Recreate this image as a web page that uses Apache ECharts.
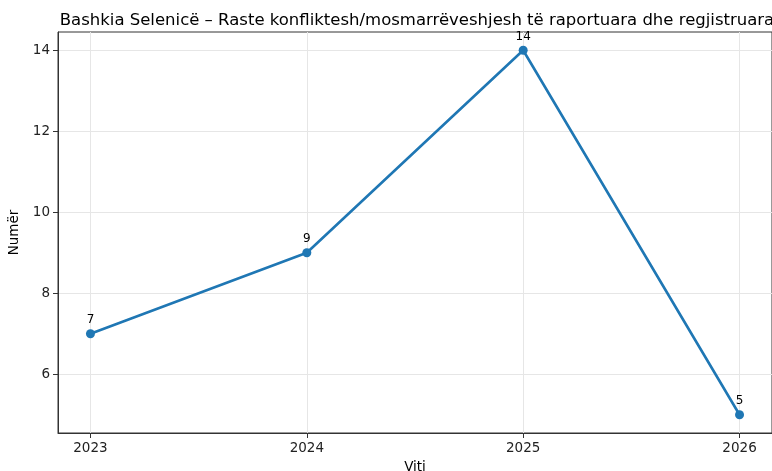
<!DOCTYPE html>
<html>
<head>
<meta charset="utf-8">
<script src="https://cdn.jsdelivr.net/npm/echarts@6/dist/echarts.min.js"></script>
<style>
  html, body { margin: 0; padding: 0; background: #fff; }
  #chart { width: 772px; height: 471px; }
</style>
</head>
<body>
<div id="chart"></div>
<script>
// Reported and registered conflict/dispute cases per year
const years = [2023, 2024, 2025, 2026];
const cases = [7, 9, 14, 5];
const yTicks = [6, 8, 10, 12, 14];

const FONT = 'DejaVu Sans';
const chart = echarts.init(document.getElementById('chart'), null, { renderer: 'canvas' });

chart.setOption({
  backgroundColor: '#ffffff',
  animation: false,
  title: {
    text: 'Bashkia Selenicë – Raste konfliktesh/mosmarrëveshjesh të raportuara dhe regjistruara',
    left: 412,
    textAlign: 'center',
    top: 7,
    textStyle: { fontFamily: FONT, fontSize: 16.5, fontWeight: 'normal', color: '#000' }
  },
  grid: {
    left: 58, right: 0, top: 32, bottom: 38,
    outerBoundsMode: 'none',
    containLabel: false,
    show: true, borderColor: '#333', borderWidth: 1, backgroundColor: 'transparent'
  },
  xAxis: {
    type: 'value',
    min: 2022.85, max: 2026.15,
    name: 'Viti',
    nameLocation: 'middle',
    nameGap: 27,
    nameTextStyle: { fontFamily: FONT, fontSize: 13.5, color: '#000' },
    axisLine: { show: true, lineStyle: { color: '#333', width: 1 } },
    axisTick: { show: true, customValues: years, length: 5, lineStyle: { color: '#333', width: 1 } },
    axisLabel: {
      customValues: years, margin: 8,
      fontFamily: FONT, fontSize: 13.5, color: '#222',
      formatter: v => String(v)
    },
    splitLine: { show: true, lineStyle: { color: '#e6e6e6', width: 1 } }
  },
  yAxis: {
    type: 'value',
    min: 4.55, max: 14.45,
    name: 'Numër',
    nameLocation: 'middle',
    nameGap: 31,
    nameRotate: 90,
    nameTextStyle: { fontFamily: FONT, fontSize: 13.5, color: '#000' },
    axisLine: { show: true, lineStyle: { color: '#333', width: 1 } },
    axisTick: { show: true, customValues: yTicks, length: 5, lineStyle: { color: '#333', width: 1 } },
    axisLabel: {
      customValues: yTicks, margin: 8,
      fontFamily: FONT, fontSize: 13.5, color: '#222'
    },
    splitLine: { show: true, lineStyle: { color: '#e6e6e6', width: 1 } }
  },
  series: [{
    type: 'line',
    data: years.map((y, i) => [y, cases[i]]),
    symbol: 'circle',
    symbolSize: 9,
    lineStyle: { color: '#1f77b4', width: 2.6 },
    itemStyle: { color: '#1f77b4' },
    label: {
      show: true, position: 'top', distance: 3,
      fontFamily: FONT, fontSize: 12, color: '#000',
      formatter: p => String(p.value[1])
    },
    z: 3
  }]
});
</script>
</body>
</html>
